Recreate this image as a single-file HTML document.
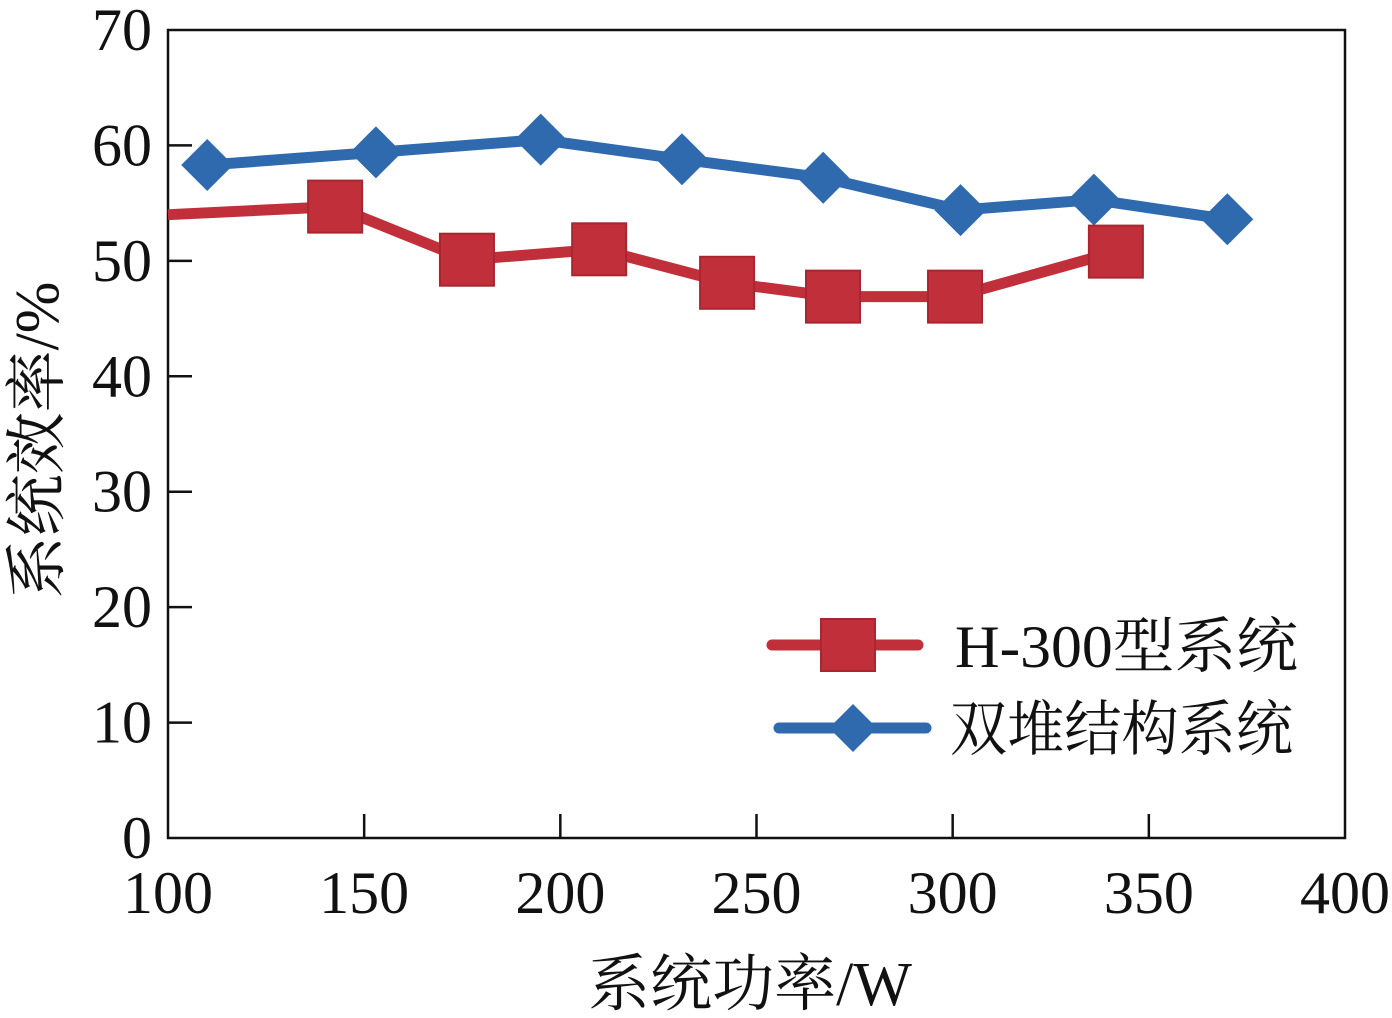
<!DOCTYPE html>
<html><head><meta charset="utf-8"><style>
html,body{margin:0;padding:0;background:#fff;}
svg text{font-family:"Liberation Serif","Noto Serif CJK SC",serif;fill:#111;}
</style></head><body>
<svg id="chart" width="1392" height="1013" viewBox="0 0 1392 1013">
<rect x="168" y="30" width="1177" height="808" fill="none" stroke="#111" stroke-width="2.5"/>
<g id="axes"></g>
<g id="series"></g>
<text x="750" y="1005" font-size="62" text-anchor="middle">系统功率/W</text>
<text transform="translate(58,440) rotate(-90)" font-size="62" text-anchor="middle">系统效率/%</text>
<g>
<line x1="772" y1="645" x2="918" y2="645" stroke="#c1303a" stroke-width="11" stroke-linecap="round"/>
<rect x="821" y="619" width="54" height="52" fill="#c1303a" stroke="#a8262f" stroke-width="2"/>
<text x="955" y="667" font-size="60" textLength="343" lengthAdjust="spacingAndGlyphs">H-300型系统</text>
<line x1="779" y1="728" x2="926" y2="728" stroke="#2e6aad" stroke-width="11" stroke-linecap="round"/>
<polygon points="853,704 877,728 853,752 829,728" fill="#2e6aad"/>
<text x="950" y="750" font-size="60" textLength="343" lengthAdjust="spacingAndGlyphs">双堆结构系统</text>
</g>
</svg>
<script>
const xTicks=[100,150,200,250,300,350,400];
const yTicks=[0,10,20,30,40,50,60,70];
const blueX=[110,153,195,231,267,302,336,370];
const blueY=[58.3,59.4,60.5,58.8,57.2,54.4,55.3,53.6];
const redX=[100,142.6,176.2,209.9,242.5,269.5,300.6,341.6];
const redY=[54.0,54.7,50.1,51.0,48.1,46.9,46.9,50.8];
const NS='http://www.w3.org/2000/svg';
const X=v=>168+(v-100)*(1345-168)/300;
const Y=v=>838-v*(838-30)/70;
function mk(tag,attrs,parent){const e=document.createElementNS(NS,tag);for(const k in attrs)e.setAttribute(k,attrs[k]);parent.appendChild(e);return e;}
const ax=document.getElementById('axes');
xTicks.forEach(t=>{
  if(t>100&&t<400){const l=mk('line',{x1:X(t),x2:X(t),y1:838,y2:814,stroke:'#111','stroke-width':2.5},ax);
  
  }
  const tx=mk('text',{x:X(t),y:913,'font-size':60,'text-anchor':'middle'},ax);tx.textContent=t;
  
  
});
yTicks.forEach(t=>{
  if(t>0&&t<70){const l=mk('line',{x1:168,x2:192,y1:Y(t),y2:Y(t),stroke:'#111','stroke-width':2.5},ax);
  
  }
  const tx=mk('text',{x:152,y:Y(t)+20,'font-size':60,'text-anchor':'end'},ax);tx.textContent=t;
  
  
});
const sg=document.getElementById('series');
const bl=mk('polyline',{points:blueX.map((x,i)=>X(x)+','+Y(blueY[i])).join(' '),fill:'none',stroke:'#2e6aad','stroke-width':11,'stroke-linejoin':'round','stroke-linecap':'round'},sg);


const rl=mk('polyline',{points:redX.map((x,i)=>X(x)+','+Y(redY[i])).join(' '),fill:'none',stroke:'#c1303a','stroke-width':11,'stroke-linejoin':'round'},sg);


blueX.forEach((x,i)=>{const cx=X(x),cy=Y(blueY[i]);
  const p=mk('polygon',{points:`${cx},${cy-26} ${cx+26},${cy} ${cx},${cy+26} ${cx-26},${cy}`,fill:'#2e6aad'},sg);
  
  
});
redX.forEach((x,i)=>{if(i===0)return;const cx=X(x),cy=Y(redY[i]);
  const r=mk('rect',{x:cx-27,y:cy-26,width:54,height:52,fill:'#c1303a',stroke:'#a8262f','stroke-width':2},sg);
  
  
});
</script>
</body></html>
